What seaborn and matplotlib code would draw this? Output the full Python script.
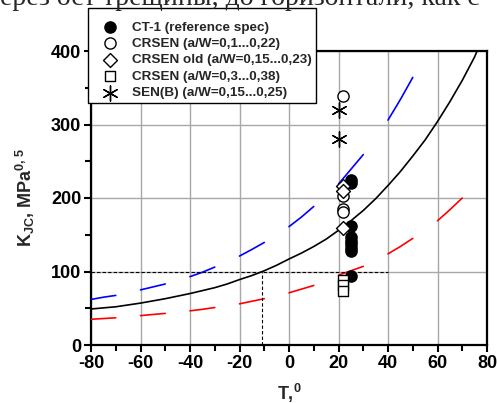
import numpy as np
import pandas as pd
import matplotlib
matplotlib.use("Agg")
import matplotlib.pyplot as plt
from matplotlib.ticker import MultipleLocator
import seaborn as sns

# ---------------- data ----------------
master_T = [-80, -75, -70, -65, -60, -55, -50, -45, -40, -35, -30, -25, -20, -15,
            -10, -5, 0, 5, 10, 15, 20, 25, 30, 35, 40, 45, 50, 55, 60, 65, 70, 75, 77]
master_K = [49, 50.5, 52, 54.5, 57, 60, 63, 66.5, 70, 74, 78, 83, 89, 94.5,
            101, 108.5, 117, 125, 134, 144, 156, 169, 183, 199, 217, 236, 257, 279,
            304, 331, 360, 392, 408]

bound_T = [-80, -75, -70, -65, -60, -55, -50, -45, -40, -35, -30, -25, -20, -15, -10, -5,
           0, 5, 10, 15, 20, 25, 30, 35, 40, 45, 50, 55, 60, 65, 70, 75, 80]
upper_K = [62, 65, 67.5, 71, 75, 79, 83, 88, 93, 99, 106, 113, 121, 130, 139.5, 150,
           161, 174, 188.5, 203, 219, 239, 259, 282, 306, 334, 364, 398, 435, 476, 520, 568, 620]
lower_K = [35, 36, 37, 38.5, 40, 41.5, 43, 45, 46.5, 48.5, 51, 53, 56, 59.5, 63, 67,
           71, 76, 81, 88, 95, 101, 107, 115, 124, 134, 145, 156, 169, 184, 200, 217, 236]

ref_K = 100
ref_T0 = -11
ref_line_end_T = 40

ct1_T = [25, 25, 25, 25, 25, 25, 25, 25, 25]
ct1_K = [224, 221, 162, 147, 142, 137, 132, 128, 94]
crsen_T = [22, 22, 22, 22]
crsen_K = [339, 203, 185, 181]
crsen_old_T = [22, 22, 22]
crsen_old_K = [216, 210, 159]
crsen3_T = [22, 22, 22]
crsen3_K = [89, 81, 74]
senb_T = [20, 20]
senb_K = [320, 280]

labels = ["CT-1 (reference spec)", "CRSEN (a/W=0,1...0,22)",
          "CRSEN old (a/W=0,15...0,23)", "CRSEN (a/W=0,3...0,38)",
          "SEN(B) (a/W=0,15...0,25)"]

x_ticks = [-80, -60, -40, -20, 0, 20, 40, 60, 80]
y_ticks = [0, 100, 200, 300, 400]

# ---------------- style ----------------
sns.set_theme(style="white")
plt.rcParams["font.family"] = ["Liberation Sans", "DejaVu Sans"]
plt.rcParams["font.weight"] = "bold"
plt.rcParams["mathtext.default"] = "regular"
plt.rcParams["axes.unicode_minus"] = False

fig = plt.figure(figsize=(4.97, 4.03), dpi=100)
ax = fig.add_axes([91 / 497, 1 - 345 / 403, (487 - 91) / 497, (345 - 51) / 403])

# master curve
df_m = pd.DataFrame({"T": master_T, "K": master_K})
sns.lineplot(data=df_m, x="T", y="K", color="black", lw=1.2, ax=ax,
             estimator=None, sort=False, zorder=3)

# tolerance bounds drawn as long dashes (10 degree on, 10 degree off)
def dashed_df(T, K):
    d = pd.DataFrame({"T": T, "K": K})
    off = d["T"] + 80
    keep = (off % 20) <= 10
    d = d[keep].copy()
    d["seg"] = (off[keep] // 20).astype(int)
    return d

sns.lineplot(data=dashed_df(bound_T, upper_K), x="T", y="K", units="seg",
             estimator=None, color="#0000ff", lw=1.2, ax=ax, sort=False, zorder=3)
sns.lineplot(data=dashed_df(bound_T, lower_K), x="T", y="K", units="seg",
             estimator=None, color="#ff0000", lw=1.2, ax=ax, sort=False, zorder=3)

# reference dotted lines
ax.hlines(ref_K, x_ticks[0], ref_line_end_T, colors="black", lw=0.8,
          linestyles=(0, (3, 2)), zorder=3)
ax.vlines(ref_T0, 0, ref_K, colors="black", lw=0.8,
          linestyles=(0, (3, 2)), zorder=3)

# scatter series
series = [
    (ct1_T, ct1_K, "o", "black", 65),
    (crsen_T, crsen_K, "o", "white", 65),
    (crsen_old_T, crsen_old_K, "D", "white", 50),
    (crsen3_T, crsen3_K, "s", "white", 50),
    (senb_T, senb_K, (6, 2, 0), "black", 120),
]
for (T, K, m, fc, s), lab in zip(series, labels):
    sns.scatterplot(x=T, y=K, marker=m, s=s, facecolor=fc, edgecolor="black",
                    linewidth=1.0, ax=ax, label=lab, zorder=4)

# axes
ax.set_xlim(-80, 80)
ax.set_ylim(0, 400)
ax.set_xticks(x_ticks)
ax.set_yticks(y_ticks)
ax.xaxis.set_minor_locator(MultipleLocator(10))
ax.yaxis.set_minor_locator(MultipleLocator(50))
ax.tick_params(which="both", direction="out", width=1.5, bottom=True, left=True,
               top=False, right=False, colors="black")
ax.tick_params(which="major", length=5, labelsize=13, pad=2)
ax.tick_params(which="minor", length=4)
for lbl in ax.get_xticklabels() + ax.get_yticklabels():
    lbl.set_fontweight("bold")
ax.grid(True, which="major", color="#a8a8a8", lw=1.0)
ax.set_axisbelow(True)
for sp in ax.spines.values():
    sp.set_visible(True)
    sp.set_color("black")
    sp.set_linewidth(1.6)

ax.set_xlabel("T,$^{0}$", fontsize=13, fontweight="bold", labelpad=7)
ax.set_ylabel("K$_{JC}$, MPa$^{0,5}$", fontsize=13, fontweight="bold", labelpad=10)

leg = ax.legend(loc="upper left", bbox_to_anchor=(88 / 497, 1 - 8 / 403),
                bbox_transform=fig.transFigure, borderaxespad=0,
                frameon=True, fancybox=False, framealpha=1, edgecolor="black",
                fontsize=9.7, borderpad=0.3, labelspacing=0.3,
                handlelength=2.7, handletextpad=0.25, scatterpoints=1,
                title=" ", title_fontsize=4)
leg.get_frame().set_linewidth(1.0)
leg.set_zorder(10)
for t in leg.get_texts():
    t.set_fontweight("bold")

# partially visible line of document text at the very top
fig.text(0.0, 1 - 5 / 403, "ерез ост трещины, до горизонтали, как с",
         family="Liberation Serif", fontsize=20, fontweight="normal",
         va="baseline", ha="left")

fig.savefig("out.png", dpi=100)
